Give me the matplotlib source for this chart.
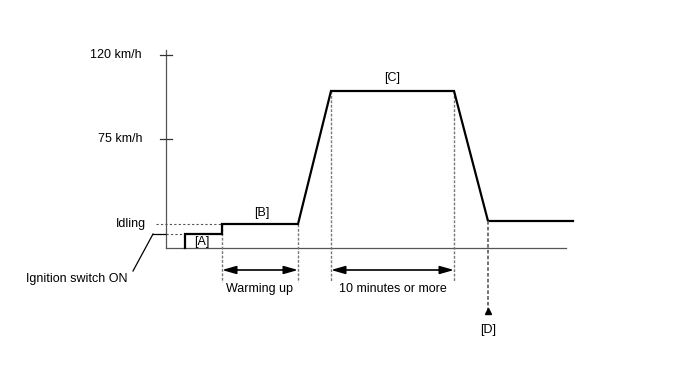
#!/usr/bin/env python
""" vehicle speed pattern for the drive check: ignition, warm up, cruise, stop
"""

import matplotlib.pyplot as plt

# schematic units: time to the right of the axis, speed above the baseline
profile_t = [19, 19, 56, 56, 132, 165, 288, 322, 407]
profile_s = [0, 14, 14, 24, 24, 157, 157, 27, 27]

tick_s = [109, 193]
tick_labels = ["75 km/h", "120 km/h"]

idle_s = 24
ign_s = 14
axis_top = 198
axis_end = 400

# dashed guides (time, top speed, bottom speed)
guide_t = [56, 132, 165, 288]
guide_top = [24, 24, 157, 157]
guide_bottom = -34

span_labels = ["Warming up", "10 minutes or more"]
span_from = [56, 165]
span_to = [132, 288]
span_s = -22

stop_t = 322
stop_s = 27
stop_bottom = -63


def main():
    plt.rcParams['font.family'] = ['Liberation Sans', 'DejaVu Sans']
    fig = plt.figure(figsize=(6.88, 3.66), dpi=100)
    ax = fig.add_axes([0, 0, 1, 1])
    ax.set_xlim(-166, 522)
    ax.set_ylim(-118, 248)
    ax.axis('off')

    grey = '#555555'
    fs = 9

    # axes
    ax.plot([0, 0], [0, axis_top], color=grey, lw=0.9)
    ax.plot([0, axis_end], [0, 0], color=grey, lw=0.9)
    for s, lab in zip(tick_s, tick_labels):
        ax.plot([-6, 6], [s, s], color='#333333', lw=0.9)
        ax.text(-24, s, lab, ha='right', va='center', fontsize=fs)

    # idling and ignition markers
    ax.plot([-10, profile_t[3]], [idle_s, idle_s], color=grey, lw=0.8, ls=(0, (2, 2)))
    ax.text(-20, idle_s, "Idling", ha='right', va='center', fontsize=fs)
    ax.plot([-13, 0], [ign_s, ign_s], color='black', lw=0.9)
    ax.plot([0, profile_t[0]], [ign_s, ign_s], color=grey, lw=0.8, ls=(0, (2, 2)))
    ax.plot([-13, -33], [ign_s, -23], color='black', lw=0.9)
    ax.text(-39, -31, "Ignition switch ON", ha='right', va='center', fontsize=fs)

    # dashed guides
    for t, top in zip(guide_t, guide_top):
        ax.plot([t, t], [top, guide_bottom], color='#777777', lw=1.0, ls=(0, (2, 1.2)))

    # speed profile
    ax.plot(profile_t, profile_s, color='black', lw=1.6, solid_joinstyle='miter')

    # span arrows
    for lab, a, b in zip(span_labels, span_from, span_to):
        ax.annotate('', xy=(a, span_s), xytext=(b, span_s),
                    arrowprops=dict(arrowstyle='<|-|>,head_length=0.7,head_width=0.2',
                                    color='black', lw=1.2,
                                    mutation_scale=12, shrinkA=0, shrinkB=0))
        ax.text((a + b) / 2, -41, lab, ha='center', va='center', fontsize=fs)

    # stop marker
    ax.plot([stop_t, stop_t], [stop_s, stop_bottom], color='#666666', lw=1.3, ls=(0, (2, 1.2)))
    ax.plot([stop_t], [stop_bottom], marker='^', color='black', ms=5)
    ax.text(stop_t, -82, "[D]", ha='center', va='center', fontsize=fs)

    # section labels
    ax.text(36, 6, "[A]", ha='center', va='center', fontsize=fs)
    ax.text(96, 35, "[B]", ha='center', va='center', fontsize=fs)
    ax.text(226, 170, "[C]", ha='center', va='center', fontsize=fs)

    fig.savefig('out.png', dpi=100, facecolor='white')


if __name__ == "__main__":
    main()
